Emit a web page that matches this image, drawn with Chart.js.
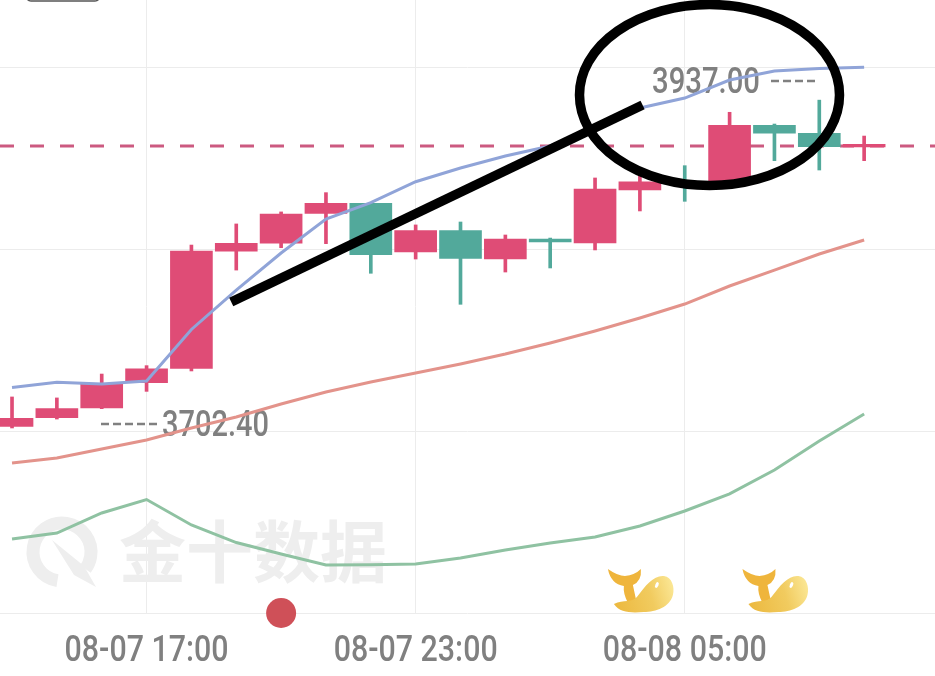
<!DOCTYPE html>
<html>
<head>
<meta charset="utf-8">
<title>K线图</title>
<style>
    html, body { margin: 0; padding: 0; background: #fff; }
    canvas { display: block; }
</style>
<script src="https://cdn.jsdelivr.net/npm/chart.js@4"></script>
</head>
<body>
<canvas id="klineChart" width="935" height="676"></canvas>
<script>
const timeLabels = ['08-07 14:00', '08-07 15:00', '08-07 16:00', '08-07 17:00', '08-07 18:00', '08-07 19:00', '08-07 20:00', '08-07 21:00', '08-07 22:00', '08-07 23:00',
    '08-08 00:00', '08-08 01:00', '08-08 02:00', '08-08 03:00', '08-08 04:00', '08-08 05:00', '08-08 06:00', '08-08 07:00', '08-08 08:00', '08-08 09:00'];
const tickIndexes = [3, 9, 15];
const priceTicks = [3570, 3700, 3830, 3960];

const opens = [3703.5, 3709.8, 3716.7, 3734.8, 3745.1, 3829.0, 3834.6, 3856.0, 3863.2, 3828.3, 3843.6, 3823.3, 3837.6, 3834.8, 3872.7, 3878.1, 3877.7, 3919.0, 3913.3, 3903.5];
const closes = [3709.3, 3716.2, 3733.7, 3744.8, 3829.0, 3834.6, 3855.5, 3863.2, 3826.4, 3843.6, 3823.8, 3837.6, 3835.5, 3873.4, 3878.6, 3877.0, 3919.0, 3913.3, 3903.7, 3905.3];
const highs = [3724.6, 3723.9, 3741.0, 3747.0, 3833.3, 3848.4, 3857.0, 3870.8, 3863.2, 3847.7, 3849.8, 3840.5, 3838.3, 3881.3, 3883.4, 3890.1, 3928.3, 3919.9, 3937.0, 3911.3];
const lows = [3702.4, 3708.8, 3716.2, 3728.6, 3743.2, 3815.4, 3831.4, 3834.3, 3813.1, 3823.3, 3790.9, 3814.0, 3816.9, 3829.8, 3857.7, 3864.6, 3877.7, 3893.7, 3887.0, 3893.7];

const upperBand = [3731.4, 3735.1, 3733.9, 3736.0, 3772.9, 3801.1, 3827.6, 3851.9, 3863.6, 3878.6, 3888.4, 3897.0, 3904.2, 3917.1, 3931.4, 3938.5, 3951.4, 3957.9, 3959.6, 3960.5];
const midBand = [3677.3, 3680.9, 3687.4, 3693.8, 3702.4, 3710.3, 3719.6, 3728.1, 3735.3, 3741.7, 3748.2, 3755.3, 3763.2, 3771.8, 3781.1, 3791.1, 3804.0, 3815.4, 3826.9, 3836.9];
const lowerBand = [3623.0, 3627.2, 3641.6, 3651.2, 3633.0, 3620.4, 3612.2, 3604.3, 3604.6, 3605.1, 3609.4, 3615.1, 3620.1, 3624.4, 3632.3, 3643.0, 3655.2, 3672.3, 3693.1, 3712.4];

const lastPrice = 3904.2;
const highLabel = '3937.00';
const lowLabel = '3702.40';
const eventDots = [6];
const whaleMarks = [14, 17];

const RED = '#df4c76';
const GREEN = '#52a99b';
const TEXT_FONT = '500 36px Roboto, sans-serif';
const X_MIN = -0.268;
const X_MAX = 20.58;

const candleColor = i => (closes[i] >= opens[i] ? RED : GREEN);

function lineSet(values, color, order) {
    return {
        type: 'line',
        data: values.map((v, i) => ({ x: i, y: v })),
        borderColor: color,
        borderWidth: 3,
        pointRadius: 0,
        tension: 0,
        order
    };
}

// 原图是窄体字，这里把文字横向压窄到目标宽度
function drawNarrowText(ctx, text, left, middle, width) {
    ctx.save();
    ctx.font = TEXT_FONT;
    ctx.fillStyle = '#808080';
    ctx.textAlign = 'left';
    ctx.textBaseline = 'middle';
    ctx.translate(left, middle + 3);
    ctx.scale(width / ctx.measureText(text).width, 1);
    ctx.fillText(text, 0, 0);
    ctx.restore();
}

function drawWhale(ctx, cx, cy) {
    ctx.save();
    ctx.translate(cx, cy);
    ctx.fillStyle = '#efb53c';
    ctx.beginPath();
    ctx.moveTo(-32, -22);
    ctx.quadraticCurveTo(-22, -15, -15, -15);
    ctx.quadraticCurveTo(-5, -16, 1, -22);
    ctx.quadraticCurveTo(2, -10, -7, -6);
    ctx.lineTo(-4, 8);
    ctx.lineTo(-12, 12);
    ctx.quadraticCurveTo(-17, 2, -16, -5);
    ctx.quadraticCurveTo(-29, -7, -32, -22);
    ctx.fill();

    const grad = ctx.createLinearGradient(-26, 10, 33, -8);
    grad.addColorStop(0, '#ecb940');
    grad.addColorStop(0.6, '#f1cb5f');
    grad.addColorStop(1, '#fbe795');
    ctx.fillStyle = grad;
    ctx.beginPath();
    ctx.moveTo(-26, 13);
    ctx.bezierCurveTo(-16, 8, -8, 12, -3, 6);
    ctx.bezierCurveTo(6, -6, 14, -16, 24, -15);
    ctx.bezierCurveTo(32, -14, 35, -4, 33, 4);
    ctx.bezierCurveTo(30, 16, 16, 21, 4, 21);
    ctx.bezierCurveTo(-8, 22, -20, 22, -26, 13);
    ctx.fill();

    ctx.fillStyle = '#fff';
    ctx.beginPath();
    ctx.ellipse(17, -6, 1.6, 3, 0.4, 0, Math.PI * 2);
    ctx.fill();
    ctx.restore();
}

// 水印和高低价标注放在K线下面
const underlayPlugin = {
    id: 'underlay',
    beforeDatasetsDraw(chart) {
        const { ctx, scales } = chart;
        ctx.save();
        ctx.strokeStyle = '#eeeeee';
        ctx.fillStyle = '#eeeeee';
        ctx.lineWidth = 13;
        ctx.beginPath();
        ctx.arc(62, 552, 29, Math.PI * 0.55, Math.PI * 0.2);
        ctx.stroke();
        ctx.beginPath();
        ctx.moveTo(52, 540);
        ctx.lineTo(84, 566);
        ctx.lineTo(96, 587);
        ctx.lineTo(74, 575);
        ctx.closePath();
        ctx.fill();

        ctx.font = 'bold 67px "Noto Sans CJK SC"';
        ctx.textAlign = 'left';
        ctx.textBaseline = 'middle';
        ctx.fillText('金十数据', 119, 552);

        drawNarrowText(ctx, highLabel, 652, 81, 108);
        drawNarrowText(ctx, lowLabel, 162, 424, 107);
        tickIndexes.forEach(i => {
            drawNarrowText(ctx, timeLabels[i], scales.x.getPixelForValue(i) - 82, 649, 164);
        });

        ctx.strokeStyle = '#808080';
        ctx.lineWidth = 2.5;
        ctx.setLineDash([8, 4]);
        ctx.beginPath();
        ctx.moveTo(771, 81);
        ctx.lineTo(816, 81);
        ctx.moveTo(101, 424);
        ctx.lineTo(157, 424);
        ctx.stroke();
        ctx.restore();
    }
};

const overlayPlugin = {
    id: 'overlay',
    afterDatasetsDraw(chart) {
        const { ctx, scales } = chart;
        ctx.save();
        ctx.fillStyle = '#cf5058';
        eventDots.forEach(i => {
            ctx.beginPath();
            ctx.arc(scales.x.getPixelForValue(i), scales.y.getPixelForValue(priceTicks[0]), 15, 0, Math.PI * 2);
            ctx.fill();
        });
        whaleMarks.forEach(i => drawWhale(ctx, scales.x.getPixelForValue(i), 591));

        ctx.strokeStyle = '#000';
        ctx.lineWidth = 9.5;
        ctx.beginPath();
        ctx.ellipse(709.5, 95, 130, 90.5, 0, 0, Math.PI * 2);
        ctx.stroke();

        ctx.strokeStyle = '#555';
        ctx.lineWidth = 1.5;
        ctx.beginPath();
        ctx.roundRect(26, -20, 74, 21, 5);
        ctx.stroke();
        ctx.restore();
    }
};

new Chart(document.getElementById('klineChart'), {
    data: {
        datasets: [
            {
                type: 'bar',
                data: opens.map((o, i) => ({ x: i, y: [o, closes[i]] })),
                backgroundColor: opens.map((_, i) => candleColor(i)),
                barThickness: 42,
                grouped: false,
                order: 5
            },
            {
                type: 'bar',
                data: highs.map((h, i) => ({ x: i, y: [lows[i], h] })),
                backgroundColor: highs.map((_, i) => candleColor(i)),
                barThickness: 3,
                grouped: false,
                order: 6
            },
            {
                type: 'line',
                data: [{ x: X_MIN, y: lastPrice }, { x: X_MAX, y: lastPrice }],
                borderColor: '#cc5a80',
                borderWidth: 3,
                borderDash: [14, 16],
                pointRadius: 0,
                order: 7
            },
            lineSet(upperBand, '#90a4d8', 3),
            lineSet(midBand, '#e3938b', 3),
            lineSet(lowerBand, '#8fc2a2', 3),
            {
                type: 'line',
                data: [{ x: 4.888, y: 3792.5 }, { x: 14.06, y: 3933.5 }],
                borderColor: '#000',
                borderWidth: 9.5,
                pointRadius: 0,
                order: 1
            }
        ]
    },
    options: {
        responsive: false,
        animation: false,
        layout: { padding: 0 },
        plugins: { legend: { display: false }, tooltip: { enabled: false } },
        scales: {
            x: {
                type: 'linear',
                offset: false,
                min: X_MIN,
                max: X_MAX,
                afterBuildTicks: scale => { scale.ticks = tickIndexes.map(v => ({ value: v })); },
                afterFit: scale => { scale.height = 63; },
                grid: { color: '#ececec', lineWidth: 1, drawTicks: false, offset: false },
                border: { display: false },
                ticks: { display: false, autoSkip: false, maxRotation: 0 }
            },
            y: {
                min: priceTicks[0],
                max: 4008.66,
                afterBuildTicks: scale => { scale.ticks = priceTicks.map(v => ({ value: v })); },
                afterFit: scale => { scale.width = 0; },
                grid: { color: '#ececec', lineWidth: 1, drawTicks: false },
                border: { display: false },
                ticks: { display: false }
            }
        }
    },
    plugins: [underlayPlugin, overlayPlugin]
});
</script>
</body>
</html>
